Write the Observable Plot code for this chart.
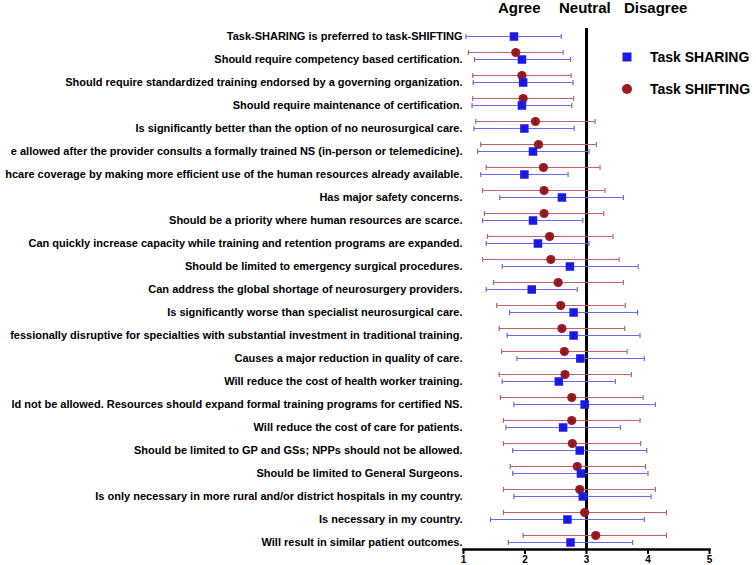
<!DOCTYPE html>
<html><head><meta charset="utf-8">
<script src="https://cdn.jsdelivr.net/npm/d3@7"></script>
<script src="https://cdn.jsdelivr.net/npm/@observablehq/plot@0.6"></script>
<style>
body{margin:0;background:#fff;font-family:"Liberation Sans",Arial,sans-serif;}
#wrap{position:relative;width:756px;height:565px;overflow:hidden;}
.hdr{position:absolute;top:0px;font-size:15px;line-height:16px;font-weight:bold;color:#000;}
.leg{position:absolute;left:620px;font-size:14px;font-weight:bold;display:flex;align-items:center;color:#000;}
.leg .sw{width:14px;height:14px;margin-right:16px;display:flex;align-items:center;justify-content:center;}
svg text{font-weight:bold;fill:#000;}
</style></head><body><div id="wrap"></div><script>
const categories = [
 "Task-SHARING is preferred to task-SHIFTING",
 "Should require competency based certification.",
 "Should require standardized training endorsed by a governing organization.",
 "Should require maintenance of certification.",
 "Is significantly better than the option of no neurosurgical care.",
 "e allowed after the provider consults a formally trained NS (in-person or telemedicine).",
 "hcare coverage by making more efficient use of the human resources already available.",
 "Has major safety concerns.",
 "Should be a priority where human resources are scarce.",
 "Can quickly increase capacity while training and retention programs are expanded.",
 "Should be limited to emergency surgical procedures.",
 "Can address the global shortage of neurosurgery providers.",
 "Is significantly worse than specialist neurosurgical care.",
 "fessionally disruptive for specialties with substantial investment in traditional training.",
 "Causes a major reduction in quality of care.",
 "Will reduce the cost of health worker training.",
 "ld not be allowed. Resources should expand formal training programs for certified NS.",
 "Will reduce the cost of care for patients.",
 "Should be limited to GP and GSs; NPPs should not be allowed.",
 "Should be limited to General Surgeons.",
 "Is only necessary in more rural and/or district hospitals in my country.",
 "Is necessary in my country.",
 "Will result in similar patient outcomes."
];
const shareMean = [1.82,1.95,1.97,1.95,1.99,2.13,1.99,2.60,2.13,2.21,2.73,2.11,2.79,2.79,2.90,2.55,2.97,2.62,2.89,2.91,2.94,2.69,2.74];
const shareLow  = [1.04,1.18,1.16,1.14,1.17,1.23,1.28,1.59,1.31,1.37,1.63,1.37,1.75,1.71,1.87,1.63,1.82,1.69,1.80,1.80,1.82,1.44,1.73];
const shareHigh = [2.59,2.74,2.78,2.76,2.80,3.04,2.70,3.60,2.94,3.04,3.84,2.85,3.83,3.87,3.94,3.47,4.12,3.55,3.98,4.00,4.05,3.94,3.75];
const shiftMean = [null,1.85,1.95,1.97,2.17,2.22,2.30,2.31,2.31,2.40,2.42,2.54,2.58,2.60,2.64,2.65,2.76,2.76,2.77,2.85,2.89,2.97,3.15];
const shiftLow  = [null,1.08,1.15,1.15,1.20,1.28,1.37,1.31,1.34,1.39,1.31,1.49,1.54,1.58,1.62,1.58,1.60,1.65,1.65,1.76,1.65,1.65,1.97];
const shiftHigh = [null,2.62,2.75,2.79,3.14,3.16,3.22,3.30,3.28,3.43,3.53,3.60,3.63,3.62,3.66,3.73,3.92,3.87,3.88,3.96,4.12,4.30,4.30];
const xTicks = [1,2,3,4,5];
const headers = ["Agree","Neutral","Disagree"];
const seriesNames = ["Task SHARING","Task SHIFTING"];

const blue = "#1a1af0", blueBar = "#6a6ae6";
const red = "#9e1a22", redBar = "#c0606a";

const share = categories.map((c,i)=>({cat:c, m:shareMean[i], lo:shareLow[i], hi:shareHigh[i]}));
const shift = categories.map((c,i)=>({cat:c, m:shiftMean[i], lo:shiftLow[i], hi:shiftHigh[i]})).filter(d=>d.m!=null);

const vbar = {draw(ctx,size){const h=Math.sqrt(size/Math.PI); ctx.moveTo(0,-h); ctx.lineTo(0,h);}};

function series(data, dy, col, barCol, sym, r){
  return [
    Plot.ruleY(data,{y:"cat",x1:"lo",x2:"hi",dy,stroke:barCol,strokeWidth:1.2}),
    Plot.dot(data,{y:"cat",x:"lo",dy,symbol:vbar,r:2.5,stroke:barCol,fill:"none",strokeWidth:1.2}),
    Plot.dot(data,{y:"cat",x:"hi",dy,symbol:vbar,r:2.5,stroke:barCol,fill:"none",strokeWidth:1.2}),
    Plot.dot(data,{y:"cat",x:"m",dy,symbol:sym,r,fill:col,stroke:"none"}),
    Plot.dot(data,{y:"cat",x:"m",dy,symbol:vbar,r:2.5,stroke:"#222",fill:"none",strokeWidth:1,strokeOpacity:0.6})
  ];
}

const chart = Plot.plot({
  width:756, height:565,
  marginLeft:463, marginRight:47, marginTop:28, marginBottom:16,
  style:{fontFamily:"'Liberation Sans', Arial, sans-serif", background:"white", color:"black"},
  x:{domain:[1,5]},
  y:{type:"point", domain:categories, padding:0, insetTop:4.5, insetBottom:4.5},
  marks:[
    Plot.axisY({tickSize:0, tickPadding:1, fontSize:11, label:null}),
    Plot.axisX({ticks:xTicks, tickFormat:d=>String(d), tickSize:5, strokeWidth:2, fontSize:10, label:null, tickPadding:1}),
    Plot.frame({anchor:"bottom", strokeWidth:2.5}),
    Plot.ruleX([3],{strokeWidth:3, stroke:"black"}),
    ...series(shift, -7, red, redBar, "circle", 4.6),
    ...series(share, 0, blue, blueBar, "square", 4.8)
  ]
});

const wrap = document.getElementById("wrap");
wrap.appendChild(chart);
const hdrLeft = [498, 559, 624];
headers.forEach((h,i)=>{const d=document.createElement("div");d.className="hdr";d.style.left=hdrLeft[i]+"px";d.textContent=h;wrap.appendChild(d);});
const legTop = [49, 81];
seriesNames.forEach((n,i)=>{
  const d=document.createElement("div");d.className="leg";d.style.top=legTop[i]+"px";
  const sw = i===0 ? `<svg width="14" height="14"><rect x="2.5" y="2.5" width="9" height="9" fill="${blue}"/></svg>`
                   : `<svg width="14" height="14"><circle cx="7" cy="7" r="5" fill="${red}"/></svg>`;
  d.innerHTML = `<span class="sw">${sw}</span><span>${n}</span>`;
  wrap.appendChild(d);
});
</script></body></html>
